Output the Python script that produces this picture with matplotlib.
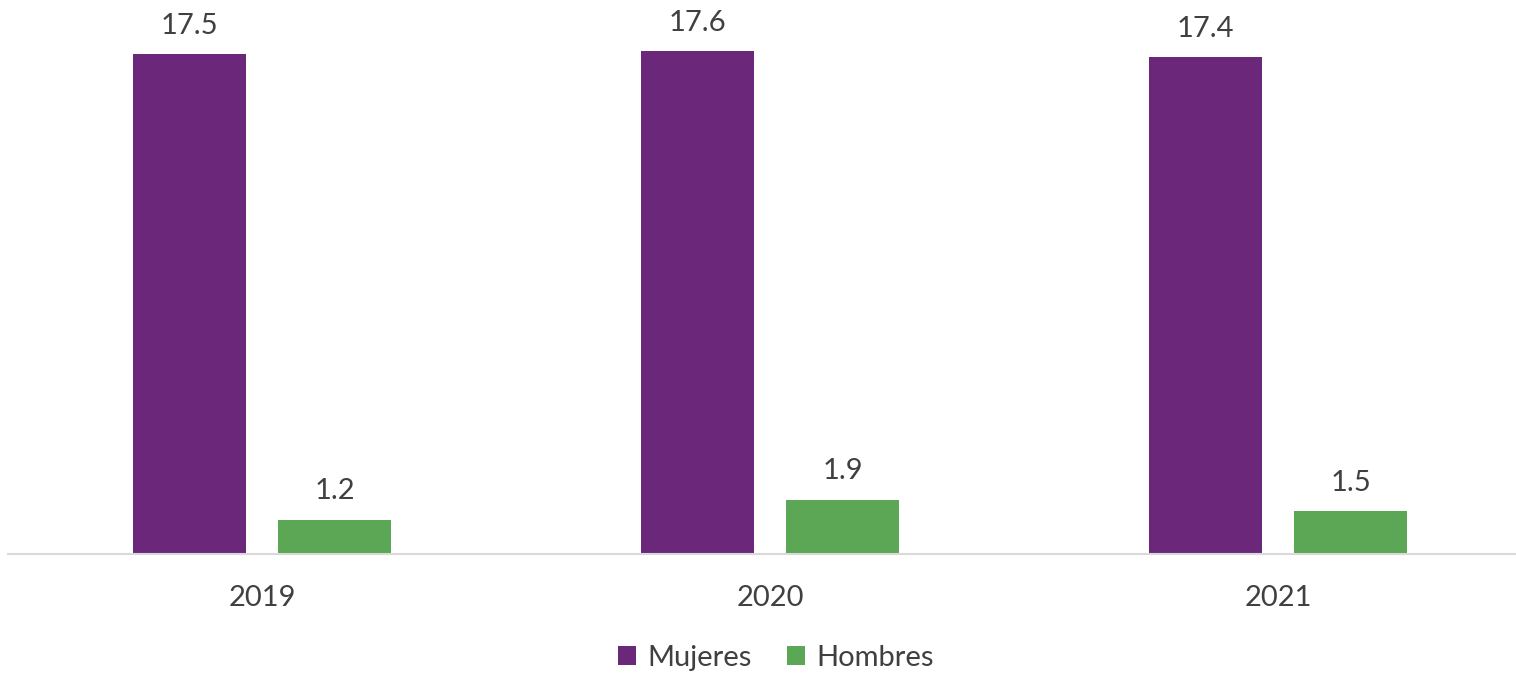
import matplotlib
matplotlib.use("Agg")
import matplotlib.pyplot as plt
import numpy as np

years = ["2019", "2020", "2021"]
mujeres = [17.5, 17.6, 17.4]
hombres = [1.2, 1.9, 1.5]

purple = "#6B287B"
green = "#5BA755"
txt = "#404040"

plt.rcParams["font.family"] = ["Lato", "DejaVu Sans"]

fig = plt.figure(figsize=(15.16, 6.73), dpi=100)
ax = fig.add_axes([8 / 1516, 119 / 673, 1524 / 1516, 554 / 673])

x = np.arange(len(years))
w = 0.222
b1 = ax.bar(x - 0.143, mujeres, w, color=purple, label="Mujeres")
b2 = ax.bar(x + 0.143, hombres, w, color=green, label="Hombres")

for bars, vals in ((b1, mujeres), (b2, hombres)):
    for r, v in zip(bars, vals):
        ax.annotate(f"{v:.1f}", (r.get_x() + r.get_width() / 2, v),
                    xytext=(0, 11), textcoords="offset points",
                    ha="center", va="bottom", fontsize=21, color=txt)

ax.set_xlim(-0.5, 2.5)
ax.set_ylim(0, 19.4)
ax.set_xticks(x)
ax.set_xticklabels(years, fontsize=21, color=txt)
ax.tick_params(axis="x", length=0, pad=22)
ax.set_yticks([])
for s in ("top", "right", "left"):
    ax.spines[s].set_visible(False)
ax.spines["bottom"].set_color("#d9d9d9")
ax.spines["bottom"].set_linewidth(1.5)

fig.legend(loc="center", bbox_to_anchor=(776 / 1516, 1 - 658 / 673), ncol=2,
           frameon=False, fontsize=21, labelcolor=txt, handlelength=0.62,
           handleheight=0.62, handletextpad=0.4, columnspacing=1.2)

fig.savefig("out.png", dpi=100)
